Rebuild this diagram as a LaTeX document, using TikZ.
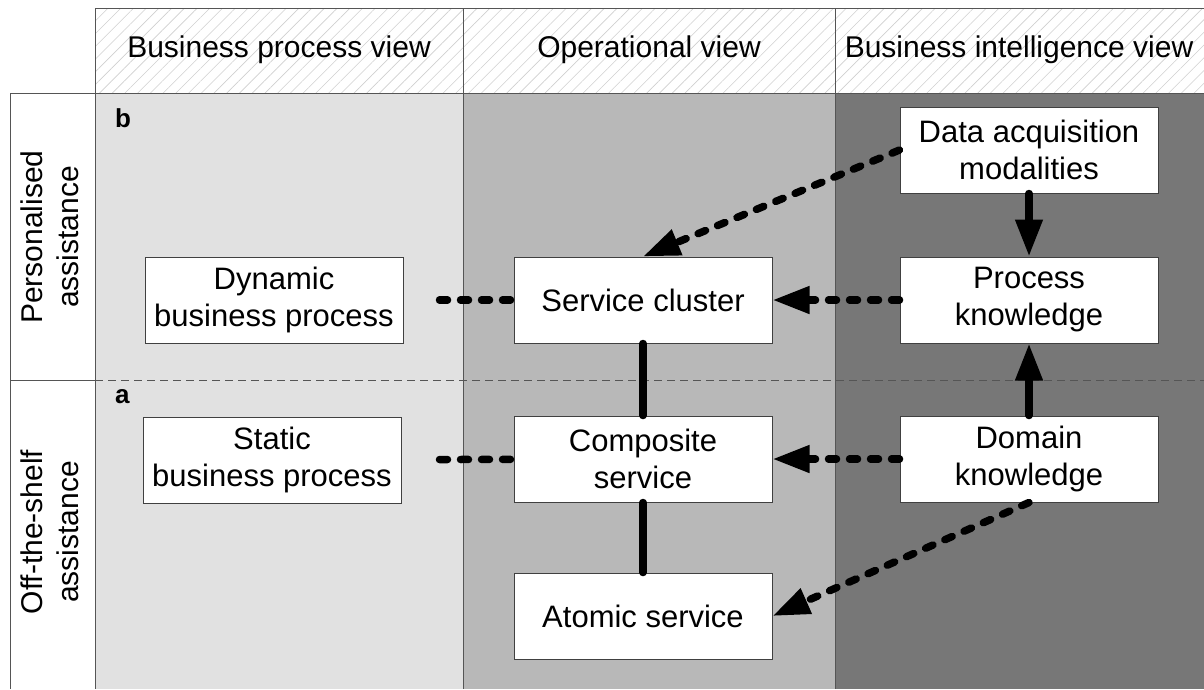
\documentclass[tikz,border=0pt]{standalone}
\usepackage{fontspec}
\setmainfont{Liberation Sans}
\usetikzlibrary{arrows.meta,patterns.meta}

\definecolor{laneA}{HTML}{E1E1E1}
\definecolor{laneB}{HTML}{B8B8B8}
\definecolor{laneC}{HTML}{777777}
\definecolor{rule}{HTML}{555555}
\definecolor{hatch}{HTML}{CFCFCF}

\begin{document}
\begin{tikzpicture}[x=1pt,y=-1pt,
  txt/.style={font=\fontsize{31}{37}\selectfont},
  headtxt/.style={font=\fontsize{30}{36}\selectfont},
  sidetxt/.style={font=\fontsize{30}{36}\selectfont,align=center,rotate=90},
  tag/.style={font=\fontsize{26}{30}\selectfont\bfseries,anchor=base west,inner sep=0pt},
  frame/.style={draw=rule,line width=1pt},
  box/.style={draw=black!75,fill=white,line width=1pt,minimum width=258pt,
    minimum height=86pt,inner sep=0pt,align=center,txt},
  dotline/.style={line width=7.5pt,line cap=round,dash pattern=on 8pt off 13pt},
  solidline/.style={line width=7.5pt,line cap=round},
  tip/.style={-{Triangle[length=37pt,width=26pt]}}]

\useasboundingbox (0,0) rectangle (1204,689);

% lane backgrounds
\fill[laneA] (95,93) rectangle (463,689);
\fill[laneB] (463,93) rectangle (835,689);
\fill[laneC] (835,93) rectangle (1204,689);

% hatched header band
\path[pattern={Lines[angle=45,distance=9pt,line width=0.6pt]},pattern color=hatch]
  (95,8) rectangle (1204,93);

% grid lines
\draw[frame] (1204,8) -- (95,8) -- (95,689);
\draw[frame] (95,93) -- (1204,93);
\draw[frame] (463,8) -- (463,689);
\draw[frame] (835,8) -- (835,689);
\draw[frame] (95,93) -- (10,93) -- (10,689);
\draw[frame] (10,380) -- (95,380);
\draw[rule,line width=1pt,dash pattern=on 8pt off 5pt] (95,380) -- (1204,380);

% column headers
\node[headtxt] (h1) at (279,50) {Business process view};
\node[headtxt] (h2) at (649,50) {Operational view};
\node[headtxt] (h3) at (1019,50) {Business intelligence view};

% row headers
\node[sidetxt] (r1) at (50,237) {Personalised\\assistance};
\node[sidetxt] (r2) at (50,532) {Off-the-shelf\\assistance};

% level tags
\node[tag] (tb) at (115,127) {b};
\node[tag] (ta) at (115,403) {a};

% boxes
\node[box] (dyn) at (274,300) {Dynamic\\business process};
\node[box] (stat) at (272,460) {Static\\business process};
\node[box] (cluster) at (643,300) {Service cluster};
\node[box] (comp) at (643,459) {Composite\\service};
\node[box] (atom) at (643,616) {Atomic service};
\node[box] (data) at (1029,150) {Data acquisition\\modalities};
\node[box] (proc) at (1029,300) {Process\\knowledge};
\node[box] (dom) at (1029,459) {Domain\\knowledge};

% connectors
\draw[dotline,shorten <=36pt] (dyn) -- (cluster);
\draw[dotline,shorten <=38pt] (stat) -- (comp);
\draw[dotline,tip] (proc) -- (cluster);
\draw[dotline,tip] (dom) -- (comp);
\draw[dotline,tip] (data.west) -- (cluster.north);
\draw[dotline,tip] (dom.south) -- (atom.east);
\draw[solidline,tip] (data) -- (proc);
\draw[solidline,tip] (dom) -- (proc);
\draw[solidline] (cluster) -- (comp);
\draw[solidline] (comp) -- (atom);
\end{tikzpicture}
\end{document}
